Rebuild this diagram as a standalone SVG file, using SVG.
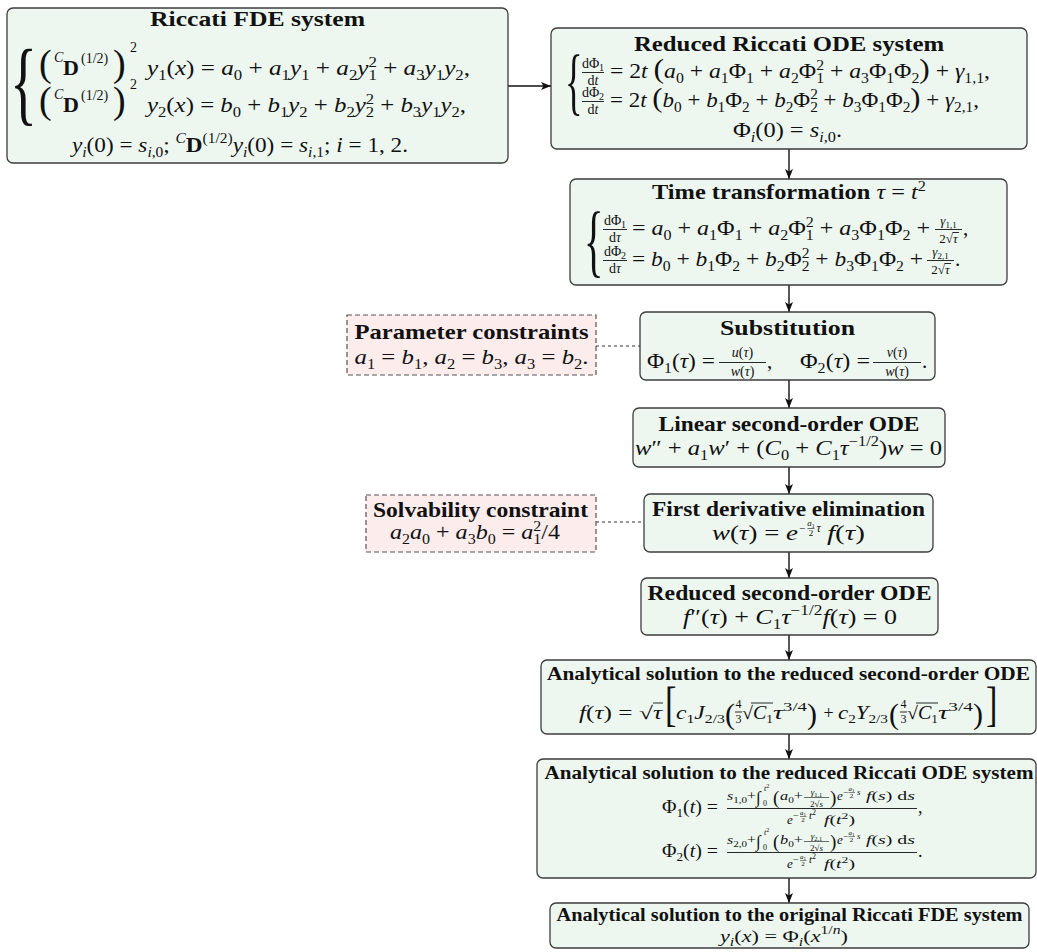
<svg xmlns="http://www.w3.org/2000/svg" width="1037" height="952" viewBox="0 0 1037 952">
<defs>
<marker id="ah" viewBox="0 0 10 8" refX="10" refY="4" markerWidth="10" markerHeight="8" markerUnits="userSpaceOnUse" orient="auto"><path d="M0,0 L10,4 L0,8 L2.5,4 z" fill="#111"/></marker>
<style>
.box{fill:#edf7f0;stroke:#3c3c3c;stroke-width:1.3}
.pink{fill:#fcecec;stroke:#555;stroke-width:1.2;stroke-dasharray:5 3}
.t{font-family:"Liberation Serif","Times New Roman",serif;font-weight:bold;font-size:21px;fill:#111;text-anchor:middle}
.t2{font-size:18.5px}
.tm{font-weight:normal;font-style:italic}
.tu{font-weight:normal;font-style:normal}
.m{font-family:"Liberation Serif","Times New Roman",serif;font-style:italic;font-size:21px;fill:#111}
.u{font-style:normal}
.s{font-size:14px;font-style:normal}
.si{font-size:14px}
.s2{font-size:12px;font-style:normal}
.si2{font-size:12px}
.b{font-weight:bold;font-style:normal}
.mid{text-anchor:middle}
.br{font-family:"Liberation Serif","Times New Roman",serif;fill:#111}
.fr{font-family:"Liberation Serif","Times New Roman",serif;font-size:14px;fill:#111;text-anchor:middle}
.fl{stroke:#111;stroke-width:0.9}
.conn{fill:none;stroke:#111;stroke-width:1.4}
.dot{fill:none;stroke:#333;stroke-width:1.2;stroke-dasharray:3 3}
</style>
</defs>
<rect x="0" y="0" width="1037" height="952" fill="#ffffff"/>

<g id="connectors">
<path class="conn" d="M508,86 H551" marker-end="url(#ah)"/>
<path class="conn" d="M789,149 V179" marker-end="url(#ah)"/>
<path class="conn" d="M789,285 V312" marker-end="url(#ah)"/>
<path class="conn" d="M789,380 V408" marker-end="url(#ah)"/>
<path class="conn" d="M789,467 V494" marker-end="url(#ah)"/>
<path class="conn" d="M789,552 V578" marker-end="url(#ah)"/>
<path class="conn" d="M789,635 V660" marker-end="url(#ah)"/>
<path class="conn" d="M789,734 V759" marker-end="url(#ah)"/>
<path class="conn" d="M789,878 V903" marker-end="url(#ah)"/>
<path class="dot" d="M596,346 H640"/>
<path class="dot" d="M596,522 H644"/>
</g>

<g id="riccati-fde">
<rect class="box" x="7" y="8" width="501" height="155" rx="6"/>
<text class="t" x="257.5" y="26" textLength="215" lengthAdjust="spacingAndGlyphs">Riccati FDE system</text>
<text class="br" transform="translate(10,114) scale(0.6,1)" style="font-size:94px">{</text>
<text class="br" x="39" y="76" style="font-size:38px">(</text>
<text class="m" x="54" y="62" style="font-size:14px">C</text>
<text class="m b" x="63" y="75" style="font-size:22px">D</text>
<text class="m u" x="81" y="63" style="font-size:14px">(1/2)</text>
<text class="br" x="113" y="76" style="font-size:38px">)</text>
<text class="m u" x="130" y="52" style="font-size:14px">2</text>
<text class="m" x="147" y="75" textLength="323" lengthAdjust="spacingAndGlyphs">y<tspan class="s" dy="5">1</tspan><tspan class="u" dy="-5">(</tspan>x<tspan class="u">) = </tspan>a<tspan class="s" dy="5">0</tspan><tspan class="u" dy="-5"> + </tspan>a<tspan class="s" dy="5">1</tspan><tspan dy="-5">y</tspan><tspan class="s" dy="5">1</tspan><tspan class="u" dy="-5"> + </tspan>a<tspan class="s" dy="5">2</tspan><tspan dy="-5">y</tspan><tspan class="s" dy="5">1</tspan><tspan class="s" dx="-7" dy="-13">2</tspan><tspan class="u" dy="8"> + </tspan>a<tspan class="s" dy="5">3</tspan><tspan dy="-5">y</tspan><tspan class="s" dy="5">1</tspan><tspan dy="-5">y</tspan><tspan class="s" dy="5">2</tspan><tspan class="u" dy="-5">,</tspan></text>
<text class="br" x="39" y="113" style="font-size:38px">(</text>
<text class="m" x="54" y="99" style="font-size:14px">C</text>
<text class="m b" x="63" y="112" style="font-size:22px">D</text>
<text class="m u" x="81" y="100" style="font-size:14px">(1/2)</text>
<text class="br" x="113" y="113" style="font-size:38px">)</text>
<text class="m u" x="130" y="89" style="font-size:14px">2</text>
<text class="m" x="147" y="112" textLength="319" lengthAdjust="spacingAndGlyphs">y<tspan class="s" dy="5">2</tspan><tspan class="u" dy="-5">(</tspan>x<tspan class="u">) = </tspan>b<tspan class="s" dy="5">0</tspan><tspan class="u" dy="-5"> + </tspan>b<tspan class="s" dy="5">1</tspan><tspan dy="-5">y</tspan><tspan class="s" dy="5">2</tspan><tspan class="u" dy="-5"> + </tspan>b<tspan class="s" dy="5">2</tspan><tspan dy="-5">y</tspan><tspan class="s" dy="5">2</tspan><tspan class="s" dx="-7" dy="-13">2</tspan><tspan class="u" dy="8"> + </tspan>b<tspan class="s" dy="5">3</tspan><tspan dy="-5">y</tspan><tspan class="s" dy="5">1</tspan><tspan dy="-5">y</tspan><tspan class="s" dy="5">2</tspan><tspan class="u" dy="-5">,</tspan></text>
<text class="m" x="72" y="152" textLength="336" lengthAdjust="spacingAndGlyphs">y<tspan class="si" dy="5">i</tspan><tspan class="u" dy="-5">(0) = </tspan>s<tspan class="si" dy="5">i</tspan><tspan class="s">,0</tspan><tspan class="u" dy="-5">; </tspan><tspan class="si" dy="-9">C</tspan><tspan class="b" dy="9">D</tspan><tspan class="s" dy="-9">(1/2)</tspan><tspan dy="9">y</tspan><tspan class="si" dy="5">i</tspan><tspan class="u" dy="-5">(0) = </tspan>s<tspan class="si" dy="5">i</tspan><tspan class="s">,1</tspan><tspan class="u" dy="-5">; </tspan>i<tspan class="u"> = 1, 2.</tspan></text>
</g>

<g id="reduced-riccati-ode">
<rect class="box" x="551" y="28" width="476" height="121" rx="6"/>
<text class="t" x="789" y="51" textLength="310" lengthAdjust="spacingAndGlyphs">Reduced Riccati ODE system</text>
<text class="br" transform="translate(565,106) scale(0.5,1)" style="font-size:73px">{</text>
<text class="fr" x="593" y="68">dΦ<tspan style="font-size:10px" dy="3">1</tspan></text>
<line class="fl" x1="582" y1="72.5" x2="604" y2="72.5"/>
<text class="fr" x="593" y="85">d<tspan style="font-style:italic">t</tspan></text>
<text class="m" x="610" y="78" textLength="380" lengthAdjust="spacingAndGlyphs"><tspan class="u">= 2</tspan>t <tspan class="u" style="font-size:28px">(</tspan>a<tspan class="s" dy="5">0</tspan><tspan class="u" dy="-5"> + </tspan>a<tspan class="s" dy="5">1</tspan><tspan class="u" dy="-5">Φ</tspan><tspan class="s" dy="5">1</tspan><tspan class="u" dy="-5"> + </tspan>a<tspan class="s" dy="5">2</tspan><tspan class="u" dy="-5">Φ</tspan><tspan class="s" dy="5">1</tspan><tspan class="s" dx="-7" dy="-13">2</tspan><tspan class="u" dy="8"> + </tspan>a<tspan class="s" dy="5">3</tspan><tspan class="u" dy="-5">Φ</tspan><tspan class="s" dy="5">1</tspan><tspan class="u" dy="-5">Φ</tspan><tspan class="s" dy="5">2</tspan><tspan class="u" dy="-5" style="font-size:28px">)</tspan><tspan class="u"> + </tspan>γ<tspan class="s" dy="5">1,1</tspan><tspan class="u" dy="-5">,</tspan></text>
<text class="fr" x="593" y="97">dΦ<tspan style="font-size:10px" dy="3">2</tspan></text>
<line class="fl" x1="582" y1="101.5" x2="604" y2="101.5"/>
<text class="fr" x="593" y="114">d<tspan style="font-style:italic">t</tspan></text>
<text class="m" x="610" y="107" textLength="369" lengthAdjust="spacingAndGlyphs"><tspan class="u">= 2</tspan>t <tspan class="u" style="font-size:28px">(</tspan>b<tspan class="s" dy="5">0</tspan><tspan class="u" dy="-5"> + </tspan>b<tspan class="s" dy="5">1</tspan><tspan class="u" dy="-5">Φ</tspan><tspan class="s" dy="5">2</tspan><tspan class="u" dy="-5"> + </tspan>b<tspan class="s" dy="5">2</tspan><tspan class="u" dy="-5">Φ</tspan><tspan class="s" dy="5">2</tspan><tspan class="s" dx="-7" dy="-13">2</tspan><tspan class="u" dy="8"> + </tspan>b<tspan class="s" dy="5">3</tspan><tspan class="u" dy="-5">Φ</tspan><tspan class="s" dy="5">1</tspan><tspan class="u" dy="-5">Φ</tspan><tspan class="s" dy="5">2</tspan><tspan class="u" dy="-5" style="font-size:28px">)</tspan><tspan class="u"> + </tspan>γ<tspan class="s" dy="5">2,1</tspan><tspan class="u" dy="-5">,</tspan></text>
<text class="m" x="733" y="137" textLength="109" lengthAdjust="spacingAndGlyphs"><tspan class="u">Φ</tspan><tspan class="si" dy="5">i</tspan><tspan class="u" dy="-5">(0) = </tspan>s<tspan class="si" dy="5">i</tspan><tspan class="s">,0</tspan><tspan class="u" dy="-5">.</tspan></text>
</g>

<g id="time-transformation">
<rect class="box" x="570" y="179" width="437" height="106" rx="6"/>
<text class="t" x="789" y="199" textLength="274" lengthAdjust="spacingAndGlyphs">Time transformation <tspan class="tm">τ</tspan><tspan class="tu"> = </tspan><tspan class="tm">t</tspan><tspan class="tu" style="font-size:14px" dy="-8">2</tspan></text>
<text class="br" transform="translate(584,267) scale(0.5,1)" style="font-size:81px">{</text>
<text class="fr" x="615" y="225">dΦ<tspan style="font-size:10px" dy="3">1</tspan></text>
<line class="fl" x1="603" y1="229.5" x2="627" y2="229.5"/>
<text class="fr" x="615" y="242">d<tspan style="font-style:italic">τ</tspan></text>
<text class="m" x="632" y="235" textLength="298" lengthAdjust="spacingAndGlyphs"><tspan class="u">= </tspan>a<tspan class="s" dy="5">0</tspan><tspan class="u" dy="-5"> + </tspan>a<tspan class="s" dy="5">1</tspan><tspan class="u" dy="-5">Φ</tspan><tspan class="s" dy="5">1</tspan><tspan class="u" dy="-5"> + </tspan>a<tspan class="s" dy="5">2</tspan><tspan class="u" dy="-5">Φ</tspan><tspan class="s" dy="5">1</tspan><tspan class="s" dx="-7" dy="-13">2</tspan><tspan class="u" dy="8"> + </tspan>a<tspan class="s" dy="5">3</tspan><tspan class="u" dy="-5">Φ</tspan><tspan class="s" dy="5">1</tspan><tspan class="u" dy="-5">Φ</tspan><tspan class="s" dy="5">2</tspan><tspan class="u" dy="-5"> +</tspan></text>
<text class="fr" x="948.5" y="225" style="font-size:13px;font-style:italic">γ<tspan style="font-size:9px;font-style:normal" dy="3">1,1</tspan></text>
<line class="fl" x1="935" y1="229.5" x2="962" y2="229.5"/>
<text class="fr" x="948.5" y="243" style="font-size:13px">2√<tspan style="font-style:italic">τ</tspan></text>
<line class="fl" x1="952.5" y1="232.5" x2="959" y2="232.5"/>
<text class="m u" x="963" y="235">,</text>
<text class="fr" x="615" y="256">dΦ<tspan style="font-size:10px" dy="3">2</tspan></text>
<line class="fl" x1="603" y1="260.5" x2="627" y2="260.5"/>
<text class="fr" x="615" y="273">d<tspan style="font-style:italic">τ</tspan></text>
<text class="m" x="632" y="266" textLength="291" lengthAdjust="spacingAndGlyphs"><tspan class="u">= </tspan>b<tspan class="s" dy="5">0</tspan><tspan class="u" dy="-5"> + </tspan>b<tspan class="s" dy="5">1</tspan><tspan class="u" dy="-5">Φ</tspan><tspan class="s" dy="5">2</tspan><tspan class="u" dy="-5"> + </tspan>b<tspan class="s" dy="5">2</tspan><tspan class="u" dy="-5">Φ</tspan><tspan class="s" dy="5">2</tspan><tspan class="s" dx="-7" dy="-13">2</tspan><tspan class="u" dy="8"> + </tspan>b<tspan class="s" dy="5">3</tspan><tspan class="u" dy="-5">Φ</tspan><tspan class="s" dy="5">1</tspan><tspan class="u" dy="-5">Φ</tspan><tspan class="s" dy="5">2</tspan><tspan class="u" dy="-5"> +</tspan></text>
<text class="fr" x="940.5" y="256" style="font-size:13px;font-style:italic">γ<tspan style="font-size:9px;font-style:normal" dy="3">2,1</tspan></text>
<line class="fl" x1="927" y1="260.5" x2="954" y2="260.5"/>
<text class="fr" x="940.5" y="274" style="font-size:13px">2√<tspan style="font-style:italic">τ</tspan></text>
<line class="fl" x1="944.5" y1="263.5" x2="951" y2="263.5"/>
<text class="m u" x="955" y="266">.</text>
</g>

<g id="parameter-constraints">
<rect class="pink" x="347" y="315" width="249" height="60"/>
<text class="t" x="471.5" y="339" textLength="234" lengthAdjust="spacingAndGlyphs">Parameter constraints</text>
<text class="m mid" x="471.5" y="364" textLength="234" lengthAdjust="spacingAndGlyphs">a<tspan class="s" dy="5">1</tspan><tspan class="u" dy="-5"> = </tspan>b<tspan class="s" dy="5">1</tspan><tspan class="u" dy="-5">, </tspan>a<tspan class="s" dy="5">2</tspan><tspan class="u" dy="-5"> = </tspan>b<tspan class="s" dy="5">3</tspan><tspan class="u" dy="-5">, </tspan>a<tspan class="s" dy="5">3</tspan><tspan class="u" dy="-5"> = </tspan>b<tspan class="s" dy="5">2</tspan><tspan class="u" dy="-5">.</tspan></text>
</g>

<g id="substitution">
<rect class="box" x="640" y="312" width="295" height="68" rx="6"/>
<text class="t" x="787.5" y="335" textLength="135" lengthAdjust="spacingAndGlyphs">Substitution</text>
<text class="m" x="647" y="368" textLength="68" lengthAdjust="spacingAndGlyphs"><tspan class="u">Φ</tspan><tspan class="s" dy="5">1</tspan><tspan class="u" dy="-5">(</tspan>τ<tspan class="u">) =</tspan></text>
<text class="fr" x="742.5" y="357" style="font-style:italic">u<tspan style="font-style:normal">(</tspan>τ<tspan style="font-style:normal">)</tspan></text>
<line class="fl" x1="719" y1="362.5" x2="766" y2="362.5"/>
<text class="fr" x="742.5" y="376" style="font-style:italic">w<tspan style="font-style:normal">(</tspan>τ<tspan style="font-style:normal">)</tspan></text>
<text class="m u" x="767" y="368">,</text>
<text class="m" x="800" y="368" textLength="70" lengthAdjust="spacingAndGlyphs"><tspan class="u">Φ</tspan><tspan class="s" dy="5">2</tspan><tspan class="u" dy="-5">(</tspan>τ<tspan class="u">) =</tspan></text>
<text class="fr" x="897" y="357" style="font-style:italic">v<tspan style="font-style:normal">(</tspan>τ<tspan style="font-style:normal">)</tspan></text>
<line class="fl" x1="873" y1="362.5" x2="921" y2="362.5"/>
<text class="fr" x="897" y="376" style="font-style:italic">w<tspan style="font-style:normal">(</tspan>τ<tspan style="font-style:normal">)</tspan></text>
<text class="m u" x="922" y="368">.</text>
</g>

<g id="linear-second-order-ode">
<rect class="box" x="633" y="408" width="312" height="59" rx="6"/>
<text class="t" x="789" y="431" textLength="261" lengthAdjust="spacingAndGlyphs">Linear second-order ODE</text>
<text class="m" x="635" y="455" textLength="307" lengthAdjust="spacingAndGlyphs">w<tspan class="u">″ + </tspan>a<tspan class="s" dy="5">1</tspan><tspan dy="-5">w</tspan><tspan class="u">′ + (</tspan>C<tspan class="s" dy="5">0</tspan><tspan class="u" dy="-5"> + </tspan>C<tspan class="s" dy="5">1</tspan><tspan dy="-5">τ</tspan><tspan class="s" dy="-9">−1/2</tspan><tspan class="u" dy="9">)</tspan>w<tspan class="u"> = 0</tspan></text>
</g>

<g id="solvability-constraint">
<rect class="pink" x="366" y="495" width="230" height="57"/>
<text class="t" x="480.5" y="517" textLength="215" lengthAdjust="spacingAndGlyphs">Solvability constraint</text>
<text class="m mid" x="475" y="539" textLength="170" lengthAdjust="spacingAndGlyphs">a<tspan class="s" dy="5">2</tspan><tspan dy="-5">a</tspan><tspan class="s" dy="5">0</tspan><tspan class="u" dy="-5"> + </tspan>a<tspan class="s" dy="5">3</tspan><tspan dy="-5">b</tspan><tspan class="s" dy="5">0</tspan><tspan class="u" dy="-5"> = </tspan>a<tspan class="s" dy="5">1</tspan><tspan class="s" dx="-7" dy="-13">2</tspan><tspan class="u" dy="8">/4</tspan></text>
</g>

<g id="first-derivative-elimination">
<rect class="box" x="644" y="494" width="289" height="58" rx="6"/>
<text class="t" x="788.5" y="516" textLength="273" lengthAdjust="spacingAndGlyphs">First derivative elimination</text>
<text class="m" x="712" y="540" textLength="86" lengthAdjust="spacingAndGlyphs">w<tspan class="u">(</tspan>τ<tspan class="u">) = </tspan>e</text>
<text class="m u" x="799" y="532" style="font-size:11px">−</text>
<text class="fr" x="811" y="526" style="font-size:9px;font-style:italic">a<tspan style="font-size:6px;font-style:normal" dy="2">1</tspan></text>
<line class="fl" x1="807.5" y1="528.5" x2="814.5" y2="528.5" style="stroke-width:0.6"/>
<text class="fr" x="811" y="536" style="font-size:9px">2</text>
<text class="m" x="816.5" y="532" style="font-size:12px">τ</text>
<text class="m" x="827" y="540" textLength="38" lengthAdjust="spacingAndGlyphs">f<tspan class="u">(</tspan>τ<tspan class="u">)</tspan></text>
</g>

<g id="reduced-second-order-ode">
<rect class="box" x="641" y="578" width="297" height="57" rx="6"/>
<text class="t" x="789.5" y="600" textLength="284" lengthAdjust="spacingAndGlyphs">Reduced second-order ODE</text>
<text class="m" x="683" y="624" textLength="214" lengthAdjust="spacingAndGlyphs">f<tspan class="u">″(</tspan>τ<tspan class="u">) + </tspan>C<tspan class="s" dy="5">1</tspan><tspan dy="-5">τ</tspan><tspan class="s" dy="-9">−1/2</tspan><tspan dy="9">f</tspan><tspan class="u">(</tspan>τ<tspan class="u">) = 0</tspan></text>
</g>

<g id="solution-second-order-ode">
<rect class="box" x="541" y="660" width="495" height="74" rx="6"/>
<text class="t t2" x="788.5" y="680" textLength="483" lengthAdjust="spacingAndGlyphs">Analytical solution to the reduced second-order ODE</text>
<text class="m" x="579" y="719" style="font-size:18px" textLength="83" lengthAdjust="spacingAndGlyphs">f<tspan class="u">(</tspan>τ<tspan class="u">) = √</tspan>τ</text>
<line class="fl" x1="653" y1="703" x2="663" y2="703"/>
<text class="br" transform="translate(665,720) scale(0.7,1)" style="font-size:49px">[</text>
<text class="m" x="676" y="719" style="font-size:18px" textLength="49" lengthAdjust="spacingAndGlyphs">c<tspan class="s2" dy="4">1</tspan><tspan dy="-4">J</tspan><tspan class="s2" dy="4">2/3</tspan></text>
<text class="br" x="725" y="724" style="font-size:30px">(</text>
<text class="fr" x="738.5" y="708" style="font-size:12px">4</text>
<line class="fl" x1="735" y1="712" x2="742" y2="712"/>
<text class="fr" x="738.5" y="723" style="font-size:12px">3</text>
<text class="m" x="742" y="719" style="font-size:18px" textLength="31" lengthAdjust="spacingAndGlyphs"><tspan class="u">√</tspan>C<tspan class="s2" dy="4">1</tspan></text>
<line class="fl" x1="751" y1="703" x2="773" y2="703"/>
<text class="m" x="773" y="719" style="font-size:18px" textLength="34" lengthAdjust="spacingAndGlyphs">τ<tspan class="s2" dy="-8">3/4</tspan></text>
<text class="br" x="807" y="724" style="font-size:30px">)</text>
<text class="m u mid" x="828.5" y="719" style="font-size:18px">+</text>
<text class="m" x="838" y="719" style="font-size:18px" textLength="50" lengthAdjust="spacingAndGlyphs">c<tspan class="s2" dy="4">2</tspan><tspan dy="-4">Y</tspan><tspan class="s2" dy="4">2/3</tspan></text>
<text class="br" x="889" y="724" style="font-size:30px">(</text>
<text class="fr" x="903.5" y="708" style="font-size:12px">4</text>
<line class="fl" x1="900" y1="712" x2="907" y2="712"/>
<text class="fr" x="903.5" y="723" style="font-size:12px">3</text>
<text class="m" x="907" y="719" style="font-size:18px" textLength="31" lengthAdjust="spacingAndGlyphs"><tspan class="u">√</tspan>C<tspan class="s2" dy="4">1</tspan></text>
<line class="fl" x1="916" y1="703" x2="938" y2="703"/>
<text class="m" x="938" y="719" style="font-size:18px" textLength="35" lengthAdjust="spacingAndGlyphs">τ<tspan class="s2" dy="-8">3/4</tspan></text>
<text class="br" x="973" y="724" style="font-size:30px">)</text>
<text class="br" transform="translate(986,720) scale(0.7,1)" style="font-size:49px">]</text>
</g>

<g id="solution-riccati-ode">
<rect class="box" x="537" y="759" width="499" height="119" rx="6"/>
<text class="t t2" x="789" y="779" textLength="489" lengthAdjust="spacingAndGlyphs">Analytical solution to the reduced Riccati ODE system</text>
<g>
<text class="m" x="662" y="813" style="font-size:18px" textLength="56" lengthAdjust="spacingAndGlyphs"><tspan class="u">Φ</tspan><tspan class="s2" dy="4">1</tspan><tspan class="u" dy="-4">(</tspan>t<tspan class="u">) =</tspan></text>
<text class="m" x="727" y="800" style="font-size:13px" textLength="29" lengthAdjust="spacingAndGlyphs">s<tspan class="u" style="font-size:9px" dy="3">1,0</tspan><tspan class="u" dy="-3">+</tspan></text>
<text class="br" x="756" y="803" style="font-size:17px">∫</text>
<text class="br" x="763" y="806" style="font-size:8px">0</text>
<text class="m" x="764" y="791" style="font-size:8px">t<tspan class="u" style="font-size:6px" dy="-3">2</tspan></text>
<text class="br" x="773" y="804" style="font-size:19px">(</text>
<text class="m" x="780" y="800" style="font-size:13px" textLength="23" lengthAdjust="spacingAndGlyphs">a<tspan class="u" style="font-size:9px" dy="3">0</tspan><tspan class="u" dy="-3">+</tspan></text>
<text class="fr" x="816.5" y="795" style="font-size:9px;font-style:italic">γ<tspan style="font-size:6.5px;font-style:normal" dy="2">1,1</tspan></text>
<line class="fl" x1="804" y1="797.5" x2="829" y2="797.5" style="stroke-width:0.6"/>
<text class="fr" x="816.5" y="806.5" style="font-size:9px">2√<tspan style="font-style:italic">s</tspan></text>
<text class="br" x="830" y="804" style="font-size:19px">)</text>
<text class="m" x="837" y="800" style="font-size:13px">e</text>
<text class="br" x="843" y="795" style="font-size:9px">−</text>
<text class="fr" x="851.5" y="790.5" style="font-size:7px;font-style:italic">a<tspan style="font-size:5px;font-style:normal" dy="1.5">1</tspan></text>
<line class="fl" x1="848.5" y1="792.5" x2="855" y2="792.5" style="stroke-width:0.5"/>
<text class="fr" x="851.5" y="798" style="font-size:7px">2</text>
<text class="m" x="857" y="795" style="font-size:9px">s</text>
<text class="m" x="866" y="800" style="font-size:13px" textLength="49" lengthAdjust="spacingAndGlyphs">f<tspan class="u">(</tspan>s<tspan class="u">) d</tspan>s</text>
<line class="fl" x1="727" y1="808.5" x2="917" y2="808.5"/>
<text class="m" x="787" y="824" style="font-size:13px">e</text>
<text class="br" x="793" y="819" style="font-size:10px">−</text>
<text class="fr" x="803" y="814.5" style="font-size:7px;font-style:italic">a<tspan style="font-size:5px;font-style:normal" dy="1.5">1</tspan></text>
<line class="fl" x1="800" y1="816.5" x2="806.5" y2="816.5" style="stroke-width:0.5"/>
<text class="fr" x="803" y="822" style="font-size:7px">2</text>
<text class="m" x="809" y="819" style="font-size:11px">t<tspan class="u" style="font-size:8px" dy="-4">2</tspan></text>
<text class="m" x="824" y="824" style="font-size:13px" textLength="31" lengthAdjust="spacingAndGlyphs">f<tspan class="u">(</tspan>t<tspan class="u" style="font-size:9px" dy="-5">2</tspan><tspan class="u" dy="5">)</tspan></text>
<text class="m u" x="918" y="813" style="font-size:18px">,</text>
</g>
<g transform="translate(0,44)">
<text class="m" x="662" y="813" style="font-size:18px" textLength="56" lengthAdjust="spacingAndGlyphs"><tspan class="u">Φ</tspan><tspan class="s2" dy="4">2</tspan><tspan class="u" dy="-4">(</tspan>t<tspan class="u">) =</tspan></text>
<text class="m" x="727" y="800" style="font-size:13px" textLength="29" lengthAdjust="spacingAndGlyphs">s<tspan class="u" style="font-size:9px" dy="3">2,0</tspan><tspan class="u" dy="-3">+</tspan></text>
<text class="br" x="756" y="803" style="font-size:17px">∫</text>
<text class="br" x="763" y="806" style="font-size:8px">0</text>
<text class="m" x="764" y="791" style="font-size:8px">t<tspan class="u" style="font-size:6px" dy="-3">2</tspan></text>
<text class="br" x="773" y="804" style="font-size:19px">(</text>
<text class="m" x="780" y="800" style="font-size:13px" textLength="23" lengthAdjust="spacingAndGlyphs">b<tspan class="u" style="font-size:9px" dy="3">0</tspan><tspan class="u" dy="-3">+</tspan></text>
<text class="fr" x="816.5" y="795" style="font-size:9px;font-style:italic">γ<tspan style="font-size:6.5px;font-style:normal" dy="2">2,1</tspan></text>
<line class="fl" x1="804" y1="797.5" x2="829" y2="797.5" style="stroke-width:0.6"/>
<text class="fr" x="816.5" y="806.5" style="font-size:9px">2√<tspan style="font-style:italic">s</tspan></text>
<text class="br" x="830" y="804" style="font-size:19px">)</text>
<text class="m" x="837" y="800" style="font-size:13px">e</text>
<text class="br" x="843" y="795" style="font-size:9px">−</text>
<text class="fr" x="851.5" y="790.5" style="font-size:7px;font-style:italic">a<tspan style="font-size:5px;font-style:normal" dy="1.5">1</tspan></text>
<line class="fl" x1="848.5" y1="792.5" x2="855" y2="792.5" style="stroke-width:0.5"/>
<text class="fr" x="851.5" y="798" style="font-size:7px">2</text>
<text class="m" x="857" y="795" style="font-size:9px">s</text>
<text class="m" x="866" y="800" style="font-size:13px" textLength="49" lengthAdjust="spacingAndGlyphs">f<tspan class="u">(</tspan>s<tspan class="u">) d</tspan>s</text>
<line class="fl" x1="727" y1="808.5" x2="917" y2="808.5"/>
<text class="m" x="787" y="824" style="font-size:13px">e</text>
<text class="br" x="793" y="819" style="font-size:10px">−</text>
<text class="fr" x="803" y="814.5" style="font-size:7px;font-style:italic">a<tspan style="font-size:5px;font-style:normal" dy="1.5">1</tspan></text>
<line class="fl" x1="800" y1="816.5" x2="806.5" y2="816.5" style="stroke-width:0.5"/>
<text class="fr" x="803" y="822" style="font-size:7px">2</text>
<text class="m" x="809" y="819" style="font-size:11px">t<tspan class="u" style="font-size:8px" dy="-4">2</tspan></text>
<text class="m" x="824" y="824" style="font-size:13px" textLength="31" lengthAdjust="spacingAndGlyphs">f<tspan class="u">(</tspan>t<tspan class="u" style="font-size:9px" dy="-5">2</tspan><tspan class="u" dy="5">)</tspan></text>
<text class="m u" x="918" y="813" style="font-size:18px">.</text>
</g>
</g>

<g id="solution-original-fde">
<rect class="box" x="550" y="903" width="479" height="45" rx="6"/>
<text class="t t2" x="789.5" y="921" textLength="466" lengthAdjust="spacingAndGlyphs">Analytical solution to the original Riccati FDE system</text>
<text class="m mid" x="784" y="942" style="font-size:17px" textLength="128" lengthAdjust="spacingAndGlyphs">y<tspan class="si2" dy="4">i</tspan><tspan class="u" dy="-4">(</tspan>x<tspan class="u">) = Φ</tspan><tspan class="si2" dy="4">i</tspan><tspan class="u" dy="-4">(</tspan>x<tspan class="s2" dy="-8">1/</tspan><tspan class="si2">n</tspan><tspan class="u" dy="8">)</tspan></text>
</g>
</svg>
